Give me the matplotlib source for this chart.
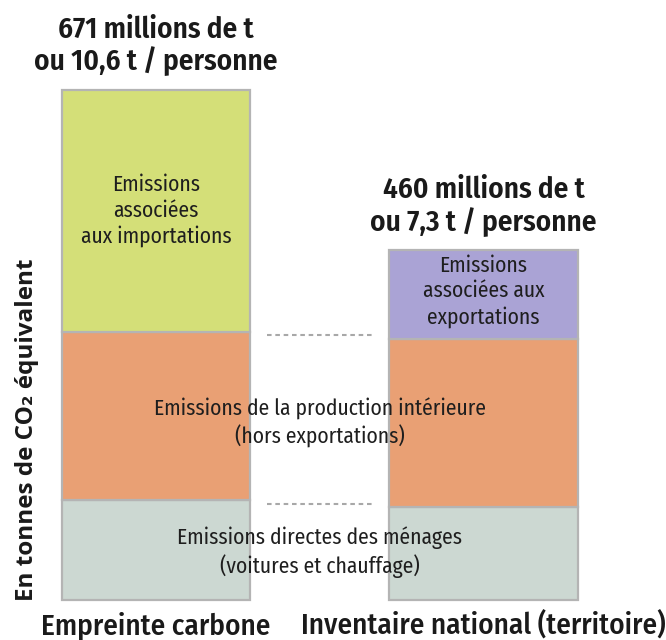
import matplotlib
matplotlib.use("Agg")
import matplotlib.pyplot as plt
import numpy as np

# Mt CO2e per segment, bottom to top
columns = ["Empreinte carbone", "Inventaire national (territoire)"]
menages = [131, 122]          # emissions directes des ménages
production = [222, 222]       # production intérieure hors exportations
echanges = [318, 116]         # importations (empreinte) / exportations (inventaire)
totals = [671, 460]
per_capita = ["10,6", "7,3"]

C_MEN = "#ccd8d2"
C_PROD = "#e9a074"
C_IMP = "#d4df78"
C_EXP = "#aaa3d5"
EDGE = "#b4b4b4"

COND = "Fira Sans Condensed"

fig = plt.figure(figsize=(6.66, 6.4), dpi=100)
ax = fig.add_axes([0, 0, 1, 1])
ax.set_xlim(-0.476, 1.557)
ax.set_ylim(-52.6, 789.5)
ax.axis("off")

x = np.arange(len(columns))
w = 0.575
kw = dict(width=w, edgecolor=EDGE, linewidth=1.6)
ax.bar(x, menages, color=C_MEN, **kw)
ax.bar(x, production, bottom=menages, color=C_PROD, **kw)
base2 = np.add(menages, production)
ax.bar(x, echanges, bottom=base2, color=[C_IMP, C_EXP], **kw)

# dotted guides between the two columns at the shared boundaries
for level in (np.mean(menages), np.mean(base2)):
    ax.plot([0.34, 0.67], [level, level], color="#a8a8a8", lw=1.5,
            ls=(0, (2.2, 1.8)))

txt = dict(ha="center", va="center", family=COND, fontweight="normal",
           fontsize=15.5, color="#1e1e1e", linespacing=1.25)
ax.text(0, base2[0] + echanges[0] / 2, "Emissions\nassociées\naux importations", **txt)
ax.text(1, base2[1] + echanges[1] / 2 + 4, "Emissions\nassociées aux\nexportations", **txt)
ax.text(0.5, np.mean(menages) + np.mean(production) / 2 - 4,
        "Emissions de la production intérieure\n(hors exportations)", **txt)
ax.text(0.5, np.mean(menages) / 2,
        "Emissions directes des ménages\n(voitures et chauffage)", **txt)

# totals above each column
for xi, tot, pc in zip(x, totals, per_capita):
    ax.annotate(f"{tot} millions de t\nou {pc} t / personne", (xi, tot),
                xytext=(0, 10), textcoords="offset points", ha="center",
                va="bottom", family=COND, fontweight="semibold", fontsize=21,
                linespacing=1.1, color="#1a1a1a")

# column names along the bottom
for xi, name in zip(x, columns):
    ax.text(xi, -33, name, ha="center", va="center", family=COND,
            fontweight="medium", fontsize=21, color="#1a1a1a")

ax.text(-0.394, 224, "En tonnes de CO₂ équivalent", rotation=90,
        ha="center", va="center", family=["Open Sans", "DejaVu Sans"],
        fontweight="bold", fontsize=17.5, color="#1a1a1a")

fig.savefig("out.png", dpi=100)
